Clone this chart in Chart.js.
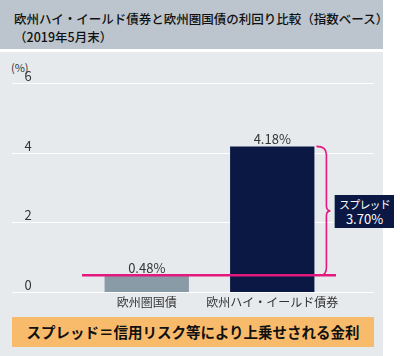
<!DOCTYPE html>
<html><head><meta charset="utf-8">
<script src="https://cdn.jsdelivr.net/npm/chart.js@4.4.1/dist/chart.umd.min.js"></script>
<style>
html,body{margin:0;padding:0;background:#fff;}
#wrap{position:relative;width:400px;height:356px;overflow:hidden;font-family:"Noto Sans CJK JP","Noto Sans",sans-serif;}
#head{position:absolute;left:0;top:0;width:383px;height:49px;background:#bcc5cd;}
#title{position:absolute;left:14px;top:10px;font-size:12.5px;line-height:18px;color:#111;white-space:nowrap;letter-spacing:0;font-weight:500;}
#panel{position:absolute;left:0;top:52px;width:383px;height:304px;background:#e7eaed;}
#c{position:absolute;left:0;top:0;}
#unit{position:absolute;left:11px;top:59px;font-size:11px;color:#333;}
#note{position:absolute;left:12px;top:317px;width:362px;height:30px;background:#f8bb6b;font-weight:bold;font-size:14.5px;line-height:30px;text-align:center;color:#111;white-space:nowrap;}
#spread{position:absolute;left:334px;top:195px;width:60px;height:33px;background:#0b1843;color:#fff;text-align:center;box-sizing:border-box;border-left:1px solid #9aa3b5;white-space:nowrap;}
#spread .l1{position:absolute;left:0;right:0;top:1px;font-size:11px;line-height:16px;letter-spacing:-0.8px;}
#spread .l2{position:absolute;left:0;right:0;top:16px;font-size:13px;line-height:16px;}
</style></head>
<body>
<div id="wrap">
  <div id="head"></div>
  <div id="title">欧州ハイ・イールド債券と欧州圏国債の利回り比較（指数ベース）<br>（2019年5月末）</div>
  <div id="panel"></div>
  <div id="unit">(%)</div>
  <canvas id="c" width="400" height="356"></canvas>
  <div id="spread"><div class="l1">スプレッド</div><div class="l2" id="spreadVal"></div></div>
  <div id="note">スプレッド＝信用リスク等により上乗せされる金利</div>
</div>
<script>
const categories = ['欧州圏国債', '欧州ハイ・イールド債券'];
const yields = [0.48, 4.18];
const yTicks = [0, 2, 4, 6];
const barColors = ['#8a9ba8', '#0b1843'];

const spread = yields[1] - yields[0];
document.getElementById('spreadVal').textContent = spread.toFixed(2) + '%';

const FONT = '"Noto Sans CJK JP","Noto Sans",sans-serif';

const decor = {
  id: 'decor',
  beforeDatasetsDraw(chart) {
    const ctx = chart.ctx, y = chart.scales.y;
    ctx.save();
    ctx.strokeStyle = '#ffffff';
    ctx.lineWidth = 1;
    ctx.fillStyle = '#333';
    ctx.font = '13px ' + FONT;
    ctx.textAlign = 'center';
    ctx.textBaseline = 'bottom';
    yTicks.forEach(v => {
      const py = Math.round(y.getPixelForValue(v)) + 0.5;
      ctx.beginPath();
      ctx.moveTo(12, py);
      ctx.lineTo(374, py);
      ctx.stroke();
      ctx.fillText(String(v), 28, py - 0.5);
    });
    ctx.restore();
  },
  afterDatasetsDraw(chart) {
    const ctx = chart.ctx, y = chart.scales.y, area = chart.chartArea;
    const bars = chart.getDatasetMeta(0).data;
    ctx.save();
    ctx.fillStyle = '#333';
    ctx.font = '13px ' + FONT;
    ctx.textAlign = 'center';
    ctx.textBaseline = 'bottom';
    bars.forEach((b, i) => {
      ctx.fillText(yields[i].toFixed(2) + '%', b.x, b.y - 1);
    });
    const yLow = y.getPixelForValue(yields[0]);
    const yHigh = y.getPixelForValue(yields[1]);
    ctx.strokeStyle = '#e3197e';
    ctx.lineWidth = 2.5;
    ctx.beginPath();
    ctx.moveTo(area.left - 2, yLow);
    ctx.lineTo(area.right + 1, yLow);
    ctx.stroke();
    const hb = bars[1];
    const x0 = hb.x + hb.width / 2 + 2;
    const xv = x0 + 10, xt = xv + 4;
    const mid = (yLow + yHigh) / 2;
    ctx.lineWidth = 1.6;
    ctx.beginPath();
    ctx.moveTo(x0, yHigh);
    ctx.quadraticCurveTo(xv, yHigh, xv, yHigh + 8);
    ctx.lineTo(xv, mid - 5);
    ctx.quadraticCurveTo(xv, mid, xt, mid);
    ctx.quadraticCurveTo(xv, mid, xv, mid + 5);
    ctx.lineTo(xv, yLow - 8);
    ctx.quadraticCurveTo(xv, yLow, x0 + 4, yLow);
    ctx.stroke();
    ctx.restore();
  }
};

new Chart(document.getElementById('c'), {
  type: 'bar',
  data: {
    labels: categories,
    datasets: [{
      data: yields,
      backgroundColor: barColors,
      borderWidth: 0,
      barPercentage: 0.672,
      categoryPercentage: 1
    }]
  },
  options: {
    responsive: false,
    animation: false,
    events: [],
    layout: { padding: { left: 84, right: 65, top: 83, bottom: 44 } },
    plugins: { legend: { display: false }, tooltip: { enabled: false }, title: { display: false } },
    scales: {
      x: {
        grid: { display: false, drawTicks: false },
        border: { display: false },
        ticks: { color: '#333', font: { size: 12, family: FONT }, padding: 3, autoSkip: false, maxRotation: 0, minRotation: 0 },
        afterFit: s => { s.height = 20; }
      },
      y: {
        display: false,
        min: 0, max: 6,
        ticks: { stepSize: 2 }
      }
    }
  },
  plugins: [decor]
});
</script>
</body></html>
